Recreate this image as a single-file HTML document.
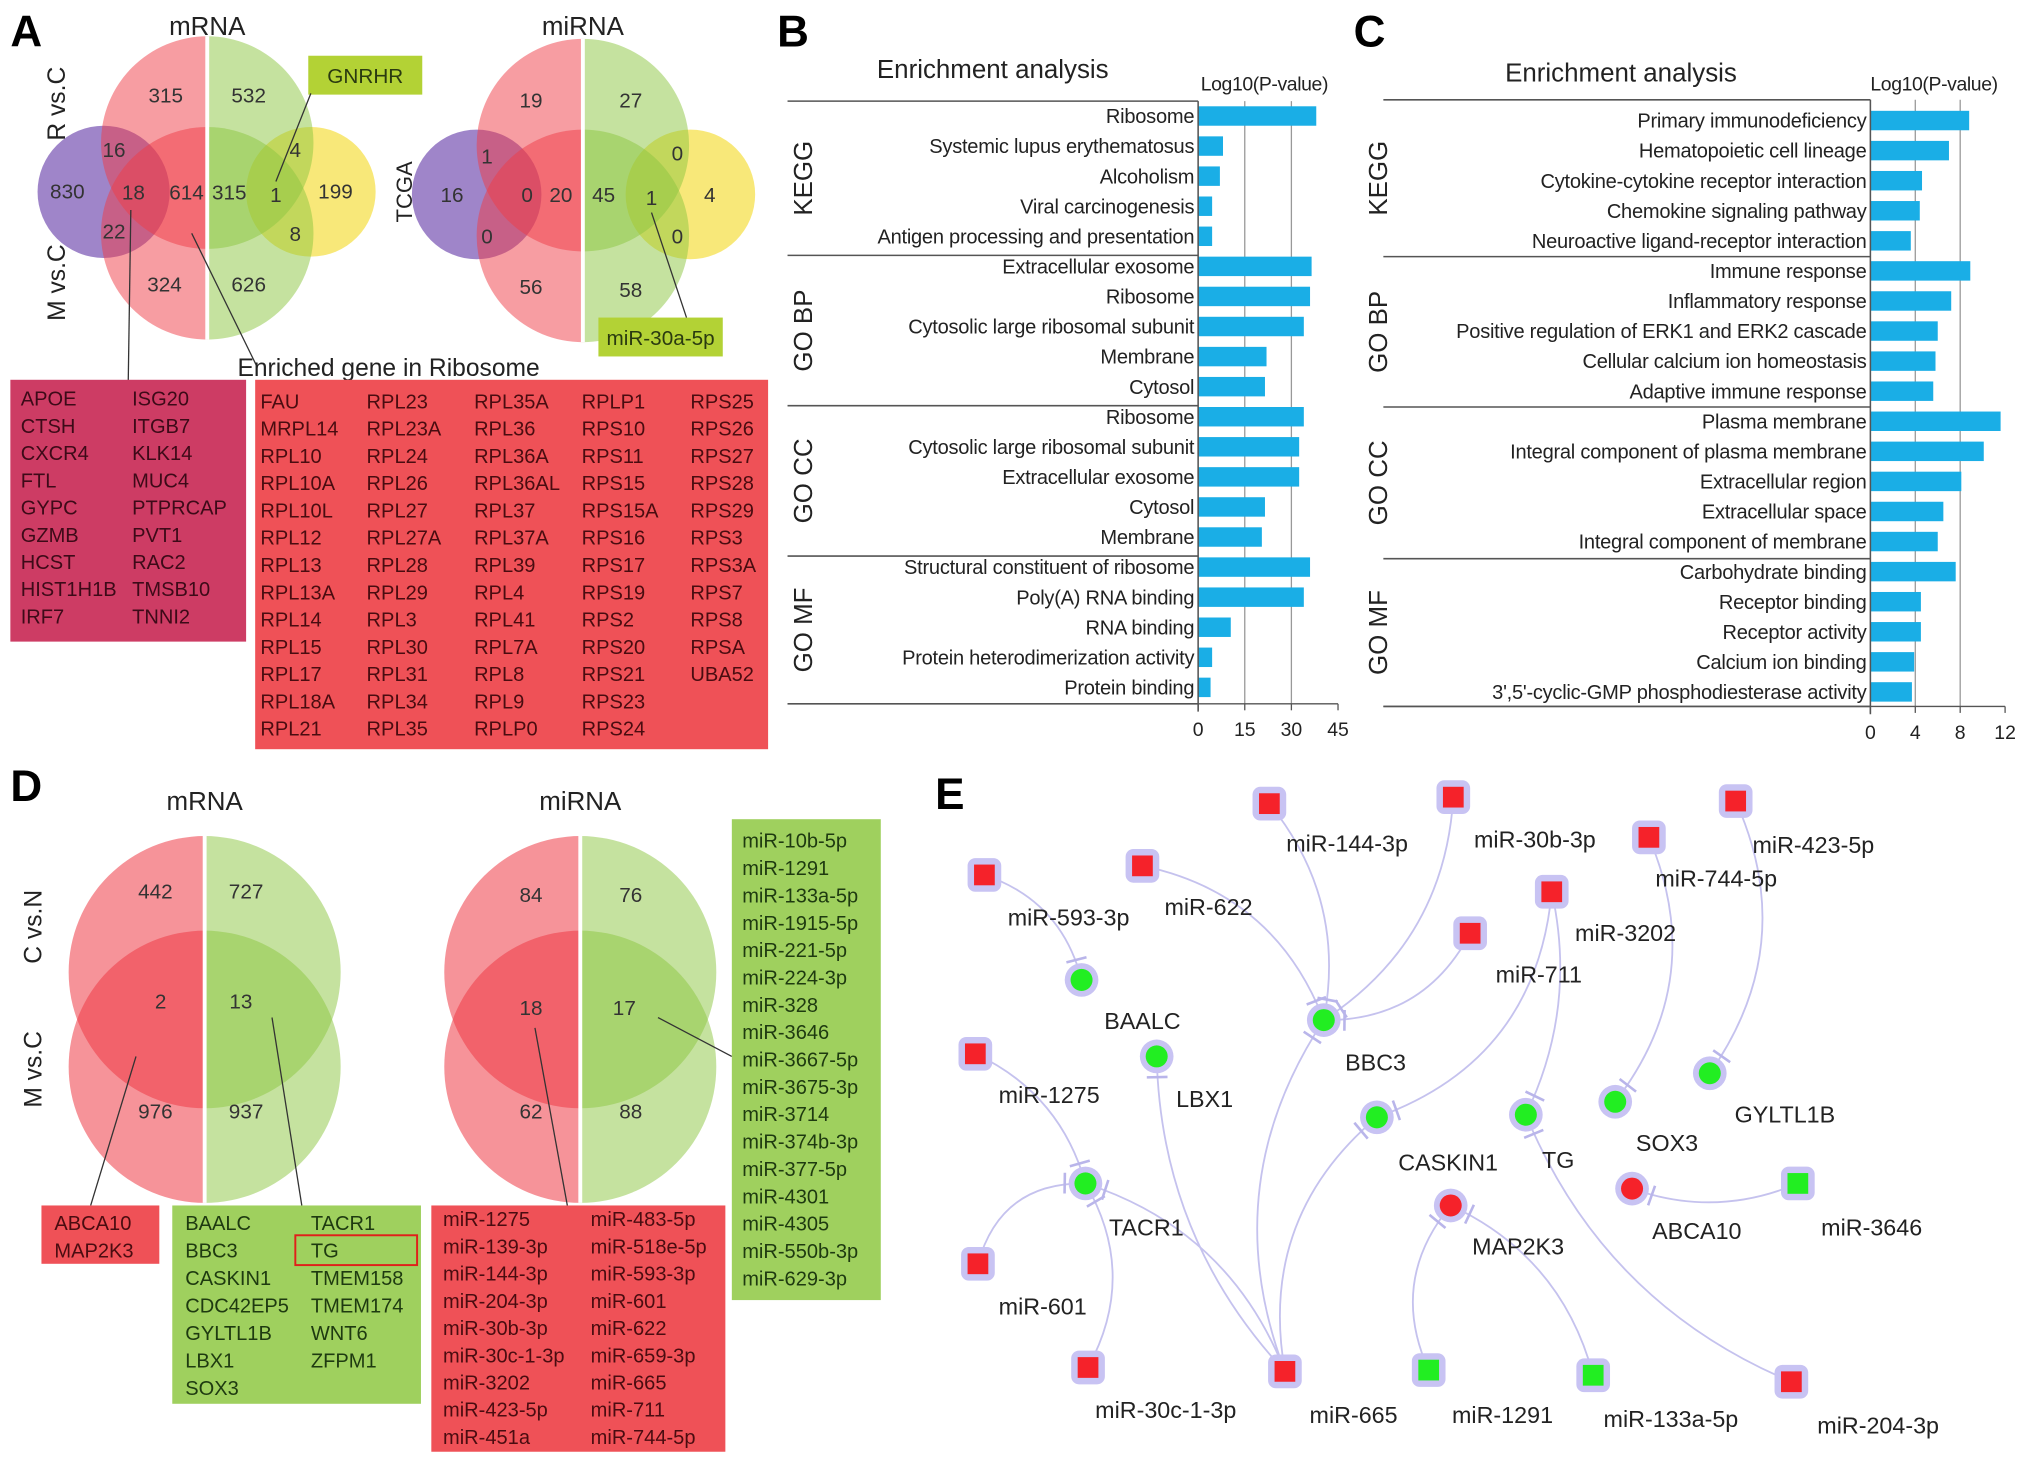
<!DOCTYPE html>
<html><head><meta charset="utf-8"><style>
html,body{margin:0;padding:0;background:#fff;overflow:hidden}
svg{display:block}
text{font-family:"Liberation Sans",Arial,sans-serif}
</style></head><body>
<svg id="fig" width="2031" height="1466" viewBox="0 0 1568 1131" preserveAspectRatio="none" xmlns="http://www.w3.org/2000/svg">
<defs>
<clipPath id="lhA"><rect x="0" y="0" width="160" height="300"/></clipPath>
<clipPath id="rhA"><rect x="160" y="0" width="200" height="300"/></clipPath>
<clipPath id="lhA2"><rect x="300" y="0" width="150" height="300"/></clipPath>
<clipPath id="rhA2"><rect x="450" y="0" width="150" height="300"/></clipPath>
<clipPath id="lhD"><rect x="0" y="600" width="158" height="400"/></clipPath>
<clipPath id="rhD"><rect x="158" y="600" width="200" height="400"/></clipPath>
<clipPath id="lhD2"><rect x="300" y="600" width="148" height="400"/></clipPath>
<clipPath id="rhD2"><rect x="448" y="600" width="200" height="400"/></clipPath>
</defs>
<g id="root"></g>
</svg>
<script>
// ===== Bar chart data (panel B) =====
const bCats = ["Ribosome","Systemic lupus erythematosus","Alcoholism","Viral carcinogenesis","Antigen processing and presentation","Extracellular exosome","Ribosome","Cytosolic large ribosomal subunit","Membrane","Cytosol","Ribosome","Cytosolic large ribosomal subunit","Extracellular exosome","Cytosol","Membrane","Structural constituent of ribosome","Poly(A) RNA binding","RNA binding","Protein heterodimerization activity","Protein binding"];
const bVals = [38,8,7,4.5,4.5,36.5,36,34,22,21.5,34,32.5,32.5,21.5,20.5,36,34,10.5,4.5,4];
const bTicks = [0,15,30,45];
// ===== Bar chart data (panel C) =====
const cCats = ["Primary immunodeficiency","Hematopoietic cell lineage","Cytokine-cytokine receptor interaction","Chemokine signaling pathway","Neuroactive ligand-receptor interaction","Immune response","Inflammatory response","Positive regulation of ERK1 and ERK2 cascade","Cellular calcium ion homeostasis","Adaptive immune response","Plasma membrane","Integral component of plasma membrane","Extracellular region","Extracellular space","Integral component of membrane","Carbohydrate binding","Receptor binding","Receptor activity","Calcium ion binding","3',5'-cyclic-GMP phosphodiesterase activity"];
const cVals = [8.8,7,4.6,4.4,3.6,8.9,7.2,6,5.8,5.6,11.6,10.1,8.1,6.5,6,7.6,4.5,4.5,3.9,3.7];
const cTicks = [0,4,8,12];
const groups = ["KEGG","GO BP","GO CC","GO MF"];

const NS="http://www.w3.org/2000/svg";
const root=document.getElementById('root');
function el(tag,attrs,parent,txt){const e=document.createElementNS(NS,tag);for(const k in attrs)e.setAttribute(k,attrs[k]);if(txt!==undefined)e.textContent=txt;(parent||root).appendChild(e);return e;}
function T(x,y,s,size,opts){opts=opts||{};const e=el('text',{x:x,y:y,'font-size':size,fill:opts.fill||'#222','text-anchor':opts.anchor||'start'},opts.parent,s);if(opts.bold)e.setAttribute('font-weight','bold');if(opts.rot)e.setAttribute('transform','rotate(-90 '+x+' '+y+')');if(opts.ls)e.setAttribute('letter-spacing',opts.ls);return e;}

// panel letters
[["A",8,36],["B",600,36],["C",1045,36],["D",8,618],["E",722,624]].forEach(p=>{
  const t=T(p[1],p[2],p[0],34,{bold:true,fill:'#000'});
  
  
});

// ===== Venn helper =====
function venn4(cx,cyTop,cyBot,r,clipL,clipR,purple,yellow,g){
  el('circle',{cx:purple[0],cy:purple[1],r:purple[2],fill:'#8e70bf','fill-opacity':0.85},g);
  el('circle',{cx:yellow[0],cy:yellow[1],r:yellow[2],fill:'#f7e56a','fill-opacity':0.9},g);
  const gl=el('g',{'clip-path':'url(#'+clipL+')'},g);
  el('circle',{cx:cx,cy:cyTop,r:r,fill:'#ef3b45','fill-opacity':0.5},gl);
  el('circle',{cx:cx,cy:cyBot,r:r,fill:'#ef3b45','fill-opacity':0.5},gl);
  const gr=el('g',{'clip-path':'url(#'+clipR+')'},g);
  el('circle',{cx:cx,cy:cyTop,r:r,fill:'#8cc63f','fill-opacity':0.5},gr);
  el('circle',{cx:cx,cy:cyBot,r:r,fill:'#8cc63f','fill-opacity':0.5},gr);
  el('line',{x1:cx,y1:cyTop-r,x2:cx,y2:cyBot+r,stroke:'#fff','stroke-width':3},g);
}
function venn2(cx,cyTop,cyBot,r,clipL,clipR,g){
  const gl=el('g',{'clip-path':'url(#'+clipL+')'},g);
  el('circle',{cx:cx,cy:cyTop,r:r,fill:'#ef3b45','fill-opacity':0.55},gl);
  el('circle',{cx:cx,cy:cyBot,r:r,fill:'#ef3b45','fill-opacity':0.55},gl);
  const gr=el('g',{'clip-path':'url(#'+clipR+')'},g);
  el('circle',{cx:cx,cy:cyTop,r:r,fill:'#8cc63f','fill-opacity':0.5},gr);
  el('circle',{cx:cx,cy:cyBot,r:r,fill:'#8cc63f','fill-opacity':0.5},gr);
  el('line',{x1:cx,y1:cyTop-r,x2:cx,y2:cyBot+r,stroke:'#fff','stroke-width':3},g);
}
function nums(list,g){list.forEach(n=>T(n[1],n[2],n[0],16,{anchor:'middle',parent:g,fill:'#333'}));}

// ===== Panel A =====
const gA=el('g',{});


T(160,27,"mRNA",20,{anchor:'middle',parent:gA});
T(450,27,"miRNA",20,{anchor:'middle',parent:gA});
venn4(160,110,180,82,'lhA','rhA',[80,148,51],[240,148,50],gA);
venn4(450,112,182,82,'lhA2','rhA2',[368,150,50],[533,150,50],gA);
nums([["315",128,79],["532",192,79],["16",88,121],["830",52,153],["18",103,154],["614",144,154],["315",177,154],["4",228,121],["1",213,156],["199",259,153],["22",88,184],["8",228,186],["324",127,225],["626",192,225]],gA);
nums([["19",410,83],["27",487,83],["1",376,126],["16",349,156],["0",407,156],["20",433,156],["45",466,156],["1",503,158],["0",523,124],["4",548,156],["0",376,188],["0",523,188],["56",410,227],["58",487,229]],gA);
T(50,80,"R vs.C",19,{anchor:'middle',rot:true,parent:gA});
T(50,218,"M vs.C",19,{anchor:'middle',rot:true,parent:gA});
T(318,148,"TCGA",17,{anchor:'middle',rot:true,parent:gA});
// callouts
el('rect',{x:238,y:43,width:88,height:30,fill:'#b3d235'},gA);
T(282,64,"GNRHR",16,{anchor:'middle',parent:gA,fill:'#2a3a10'});
el('line',{x1:240,y1:72,x2:213,y2:140,stroke:'#333','stroke-width':1},gA);
el('rect',{x:462,y:245,width:96,height:30,fill:'#b3d235'},gA);
T(510,266,"miR-30a-5p",16,{anchor:'middle',parent:gA,fill:'#2a3a10'});
el('line',{x1:503,y1:164,x2:530,y2:245,stroke:'#333','stroke-width':1},gA);
el('line',{x1:101,y1:162,x2:99,y2:295,stroke:'#333','stroke-width':1},gA);
el('line',{x1:148,y1:180,x2:198,y2:282,stroke:'#333','stroke-width':1},gA);
T(300,290,"Enriched gene in Ribosome",19,{anchor:'middle',parent:gA});
// gene boxes
const boxA1=el('rect',{x:8,y:293,width:182,height:202,fill:'#cd3c64'},gA);


const a1c1=["APOE","CTSH","CXCR4","FTL","GYPC","GZMB","HCST","HIST1H1B","IRF7"];
const a1c2=["ISG20","ITGB7","KLK14","MUC4","PTPRCAP","PVT1","RAC2","TMSB10","TNNI2"];
a1c1.forEach((s,i)=>T(16,313+i*21,s,15.5,{parent:gA,fill:'#3d0a18'}));
a1c2.forEach((s,i)=>T(102,313+i*21,s,15.5,{parent:gA,fill:'#3d0a18'}));
const boxA2=el('rect',{x:197,y:293,width:396,height:285,fill:'#ef5157'},gA);


const a2=[["FAU","MRPL14","RPL10","RPL10A","RPL10L","RPL12","RPL13","RPL13A","RPL14","RPL15","RPL17","RPL18A","RPL21"],
["RPL23","RPL23A","RPL24","RPL26","RPL27","RPL27A","RPL28","RPL29","RPL3","RPL30","RPL31","RPL34","RPL35"],
["RPL35A","RPL36","RPL36A","RPL36AL","RPL37","RPL37A","RPL39","RPL4","RPL41","RPL7A","RPL8","RPL9","RPLP0"],
["RPLP1","RPS10","RPS11","RPS15","RPS15A","RPS16","RPS17","RPS19","RPS2","RPS20","RPS21","RPS23","RPS24"],
["RPS25","RPS26","RPS27","RPS28","RPS29","RPS3","RPS3A","RPS7","RPS8","RPSA","UBA52"]];
const a2x=[201,283,366,449,533];
a2.forEach((col,ci)=>col.forEach((s,i)=>T(a2x[ci],315+i*21.05,s,15.5,{parent:gA,fill:'#4a0c10'})));

// ===== Bar charts =====
function barChart(opts){
  const g=el('g',{});
  
  
  const x0=opts.axisX, pxPer=opts.pxPer;
  const xs=v=>x0+v*pxPer;
  const ys=i=>opts.row0+i*opts.step;
  T(opts.titleX,opts.titleY,"Enrichment analysis",20,{parent:g});
  T(opts.logX,70,"Log10(P-value)",15,{parent:g,ls:-0.3});
  opts.ticks.forEach((t,i)=>{ if(i>0 && i<opts.ticks.length-1) el('line',{x1:xs(t),y1:opts.sep[0],x2:xs(t),y2:opts.sep[4],stroke:'#999','stroke-width':1},g);});
  opts.sep.forEach(y=>el('line',{x1:opts.sepX0,y1:y,x2:x0,y2:y,stroke:'#555','stroke-width':1.2},g));
  el('line',{x1:opts.sepX0,y1:opts.sep[4],x2:xs(opts.ticks[opts.ticks.length-1]),y2:opts.sep[4],stroke:'#555','stroke-width':1},g);
  opts.vals.forEach((v,i)=>{
    const r=el('rect',{x:x0,y:ys(i)-7.5,width:xs(v)-x0,height:15,fill:'#1aaee6'},g);
    
    
    T(x0-3,ys(i)+5.5,opts.cats[i],15.5,{anchor:'end',parent:g,ls:-0.2});
  });
  el('line',{x1:x0,y1:opts.sep[0],x2:x0,y2:opts.sep[4]+6,stroke:'#555','stroke-width':1.2},g);
  opts.ticks.forEach(t=>{
    el('line',{x1:xs(t),y1:opts.sep[4],x2:xs(t),y2:opts.sep[4]+5,stroke:'#555'},g);
    T(xs(t),opts.sep[4]+25,String(t),15,{anchor:'middle',parent:g});
  });
  groups.forEach((s,i)=>T(opts.grpX,(opts.sep[i]+opts.sep[i+1])/2,s,20,{anchor:'middle',rot:true,parent:g}));
}
barChart({name:'panel-b-enrichment-chart',cats:bCats,vals:bVals,ticks:bTicks,axisX:925,pxPer:(1033-925)/45,row0:89.5,step:23.2,sep:[78,197,313,429,543],sepX0:608,titleX:677,titleY:60,logX:927,grpX:627});
barChart({name:'panel-c-enrichment-chart',cats:cCats,vals:cVals,ticks:cTicks,axisX:1444,pxPer:(1548-1444)/12,row0:93,step:23.2,sep:[77,198,314,431,545],sepX0:1068,titleX:1162,titleY:63,logX:1444,grpX:1071});

// ===== Panel D =====
const gD=el('g',{});


T(158,625,"mRNA",20,{anchor:'middle',parent:gD});
T(448,625,"miRNA",20,{anchor:'middle',parent:gD});
venn2(158,750,823,105,'lhD','rhD',gD);
venn2(448,750,823,105,'lhD2','rhD2',gD);
nums([["442",120,693],["727",190,693],["2",124,778],["13",186,778],["976",120,863],["937",190,863]],gD);
nums([["84",410,696],["76",487,696],["18",410,783],["17",482,783],["62",410,863],["88",487,863]],gD);
T(32,715,"C vs.N",19,{anchor:'middle',rot:true,parent:gD});
T(32,825,"M vs.C",19,{anchor:'middle',rot:true,parent:gD});
el('line',{x1:105,y1:815,x2:70,y2:930,stroke:'#333'},gD);
el('line',{x1:210,y1:785,x2:233,y2:930,stroke:'#333'},gD);
el('line',{x1:413,y1:793,x2:438,y2:930,stroke:'#333'},gD);
el('line',{x1:508,y1:785,x2:565,y2:815,stroke:'#333'},gD);
el('rect',{x:32,y:930,width:91,height:45,fill:'#ef5157'},gD);
T(42,949,"ABCA10",15.5,{parent:gD,fill:'#4a0c10'});
T(42,970,"MAP2K3",15.5,{parent:gD,fill:'#4a0c10'});
el('rect',{x:133,y:930,width:192,height:153,fill:'#9fd05e'},gD);
const d1=["BAALC","BBC3","CASKIN1","CDC42EP5","GYLTL1B","LBX1","SOX3"], d2=["TACR1","TG","TMEM158","TMEM174","WNT6","ZFPM1"];
d1.forEach((s,i)=>T(143,949+i*21.2,s,15.5,{parent:gD,fill:'#1e3a10'}));
d2.forEach((s,i)=>T(240,949+i*21.2,s,15.5,{parent:gD,fill:'#1e3a10'}));
el('rect',{x:228,y:953,width:94,height:23,fill:'none',stroke:'#e0201a','stroke-width':1.5},gD);
el('rect',{x:333,y:930,width:227,height:190,fill:'#ef5157'},gD);
const d3=["miR-1275","miR-139-3p","miR-144-3p","miR-204-3p","miR-30b-3p","miR-30c-1-3p","miR-3202","miR-423-5p","miR-451a"];
const d4=["miR-483-5p","miR-518e-5p","miR-593-3p","miR-601","miR-622","miR-659-3p","miR-665","miR-711","miR-744-5p"];
d3.forEach((s,i)=>T(342,946+i*21,s,15.5,{parent:gD,fill:'#4a0c10'}));
d4.forEach((s,i)=>T(456,946+i*21,s,15.5,{parent:gD,fill:'#4a0c10'}));
el('rect',{x:565,y:632,width:115,height:371,fill:'#9fd05e'},gD);
const d5=["miR-10b-5p","miR-1291","miR-133a-5p","miR-1915-5p","miR-221-5p","miR-224-3p","miR-328","miR-3646","miR-3667-5p","miR-3675-3p","miR-3714","miR-374b-3p","miR-377-5p","miR-4301","miR-4305","miR-550b-3p","miR-629-3p"];
d5.forEach((s,i)=>T(573,654+i*21.1,s,15.5,{parent:gD,fill:'#1e3a10'}));

// ===== Panel E network =====
const gE=el('g',{});


const nodes={
 "miR-144-3p":[980,620,'rs',1040,657],"miR-30b-3p":[1122,615,'rs',1185,654],"miR-423-5p":[1340,618,'rs',1400,658],
 "miR-744-5p":[1273,646,'rs',1325,684],"miR-593-3p":[760,675,'rs',825,714],"miR-622":[882,668,'rs',933,706],
 "miR-3202":[1198,688,'rs',1255,726],"miR-711":[1135,720,'rs',1188,758],"miR-1275":[753,813,'rs',810,851],
 "miR-601":[755,975,'rs',805,1014],"miR-30c-1-3p":[840,1055,'rs',900,1094],"miR-665":[992,1058,'rs',1045,1098],
 "miR-204-3p":[1383,1066,'rs',1450,1106],"miR-1291":[1103,1057,'gs',1160,1098],"miR-133a-5p":[1230,1061,'gs',1290,1101],
 "miR-3646":[1388,913,'gs',1445,953],
 "BAALC":[835,756,'gc',882,794],"LBX1":[893,815,'gc',930,854],"BBC3":[1022,787,'gc',1062,826],"CASKIN1":[1063,862,'gc',1118,903],
 "TG":[1178,860,'gc',1203,901],"SOX3":[1247,850,'gc',1287,888],"GYLTL1B":[1320,828,'gc',1378,866],"TACR1":[838,913,'gc',885,953],
 "MAP2K3":[1120,930,'rc',1172,968],"ABCA10":[1260,917,'rc',1310,956]};
const edges=[["miR-593-3p","BAALC",-30],["miR-622","BBC3",-50],["miR-144-3p","BBC3",-40],["miR-30b-3p","BBC3",-50],["miR-711","BBC3",-40],
 ["miR-3202","TG",-30],["miR-3202","CASKIN1",-70],["miR-744-5p","SOX3",-60],["miR-423-5p","GYLTL1B",-60],["miR-1275","TACR1",-30],
 ["miR-601","TACR1",-40],["miR-30c-1-3p","TACR1",40],["miR-665","TACR1",50],["miR-665","LBX1",-50],["miR-665","BBC3",-70],["miR-665","CASKIN1",-60],
 ["miR-1291","MAP2K3",-40],["miR-133a-5p","MAP2K3",40],["miR-204-3p","TG",-60],["miR-3646","ABCA10",-25]];
edges.forEach(e=>{
  const a=nodes[e[0]],b=nodes[e[1]];
  const mx=(a[0]+b[0])/2,my=(a[1]+b[1])/2,dx=b[0]-a[0],dy=b[1]-a[1],L=Math.hypot(dx,dy);
  const cx=mx-dy/L*e[2],cy=my+dx/L*e[2];
  const p=el('path',{d:`M${a[0]},${a[1]} Q${cx},${cy} ${b[0]},${b[1]}`,fill:'none',stroke:'#c5c2ee','stroke-width':1.4},gE);
  
  
  const tx=b[0]-cx,ty=b[1]-cy,tl=Math.hypot(tx,ty),ux=tx/tl,uy=ty/tl;
  const px=b[0]-ux*16,py=b[1]-uy*16;
  el('line',{x1:px-uy*8,y1:py+ux*8,x2:px+uy*8,y2:py-ux*8,stroke:'#b9b5ea','stroke-width':2},gE);
});
Object.keys(nodes).forEach(k=>{
  const n=nodes[k];
  const col=n[2][0]==='r'?'#f5222a':'#22ee22';
  if(n[2][1]==='s'){
    el('rect',{x:n[0]-13,y:n[1]-13,width:26,height:26,rx:6,fill:'#c8c3f3'},gE);
    const r=el('rect',{x:n[0]-8,y:n[1]-8,width:16,height:16,fill:col},gE);
    
    
  } else {
    el('circle',{cx:n[0],cy:n[1],r:13,fill:'#c8c3f3'},gE);
    const c=el('circle',{cx:n[0],cy:n[1],r:8.5,fill:col},gE);
    
    
  }
  T(n[3],n[4],k,18,{anchor:'middle',parent:gE,fill:'#222'});
});
</script>
</body></html>
